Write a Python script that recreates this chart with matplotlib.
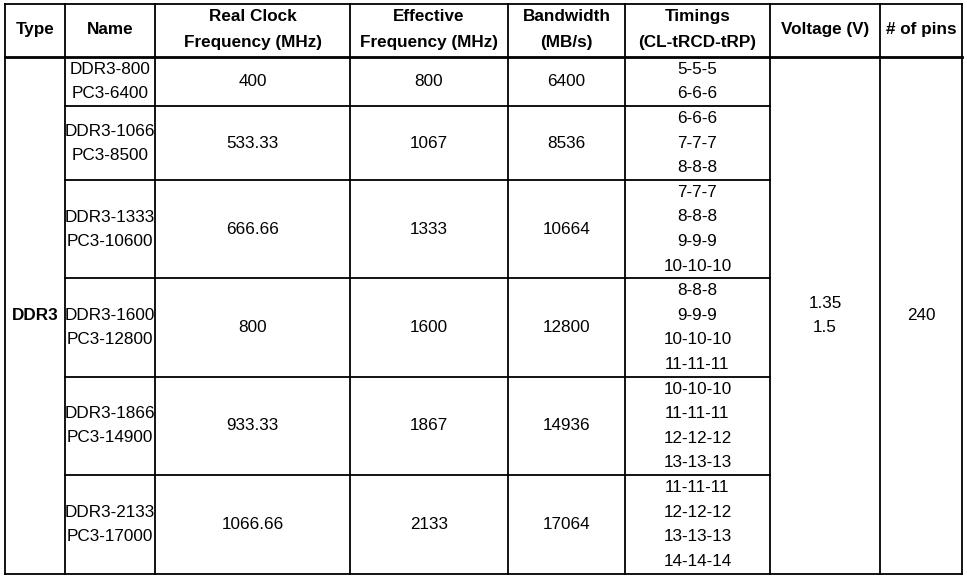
import matplotlib
matplotlib.use("Agg")
import matplotlib.pyplot as plt

headers = ["Type", "Name", "Real Clock\nFrequency (MHz)", "Effective\nFrequency (MHz)",
           "Bandwidth\n(MB/s)", "Timings\n(CL-tRCD-tRP)", "Voltage (V)", "# of pins"]
mem_type = "DDR3"
names = ["DDR3-800\nPC3-6400", "DDR3-1066\nPC3-8500", "DDR3-1333\nPC3-10600",
         "DDR3-1600\nPC3-12800", "DDR3-1866\nPC3-14900", "DDR3-2133\nPC3-17000"]
real_clock = ["400", "533.33", "666.66", "800", "933.33", "1066.66"]
effective = ["800", "1067", "1333", "1600", "1867", "2133"]
bandwidth = ["6400", "8536", "10664", "12800", "14936", "17064"]
timings = [["5-5-5", "6-6-6"],
           ["6-6-6", "7-7-7", "8-8-8"],
           ["7-7-7", "8-8-8", "9-9-9", "10-10-10"],
           ["8-8-8", "9-9-9", "10-10-10", "11-11-11"],
           ["10-10-10", "11-11-11", "12-12-12", "13-13-13"],
           ["11-11-11", "12-12-12", "13-13-13", "14-14-14"]]
voltage = "1.35\n1.5"
pins = "240"

W, H = 967, 578
fig = plt.figure(figsize=(W/100, H/100), dpi=100)
ax = fig.add_axes([0, 0, 1, 1])
ax.set_xlim(0, W); ax.set_ylim(H, 0); ax.axis("off")
plt.rcParams['font.family'] = ['Liberation Sans', 'DejaVu Sans']

xs = [5, 65, 155, 350, 508, 625, 770, 880, 962]
top, hdr_bot = 4, 57
line_h = 24.6
ys = [hdr_bot]
for t in timings:
    ys.append(ys[-1] + line_h * len(t))
bot = ys[-1]
fs = 12.3
lw = 1.3

for i, h in enumerate(headers):
    ax.text((xs[i]+xs[i+1])/2, (top+hdr_bot)/2 - 1, h, ha="center", va="center",
            fontsize=fs, fontweight="bold", linespacing=1.85)
ax.plot([xs[0], xs[-1]], [top, top], color="black", lw=lw)
ax.plot([xs[0], xs[-1]], [hdr_bot, hdr_bot], color="black", lw=2)
ax.plot([xs[0], xs[-1]], [bot, bot], color="black", lw=lw)
for x in xs:
    ax.plot([x, x], [top, bot], color="black", lw=lw)
for y in ys[1:-1]:
    ax.plot([xs[1], xs[6]], [y, y], color="black", lw=lw)

for r in range(len(names)):
    y0, y1 = ys[r], ys[r+1]
    yc = (y0 + y1) / 2
    ax.text((xs[1]+xs[2])/2, yc, names[r], ha="center", va="center", fontsize=fs, linespacing=1.75)
    for c, vals in zip([2, 3, 4], [real_clock, effective, bandwidth]):
        ax.text((xs[c]+xs[c+1])/2, yc, vals[r], ha="center", va="center", fontsize=fs)
    for k, t in enumerate(timings[r]):
        ax.text((xs[5]+xs[6])/2, y0 + line_h*(k+0.5), t, ha="center", va="center", fontsize=fs)

mid = (hdr_bot + bot) / 2
ax.text((xs[0]+xs[1])/2, mid, mem_type, ha="center", va="center", fontsize=fs, fontweight="bold")
ax.text((xs[6]+xs[7])/2, mid, voltage, ha="center", va="center", fontsize=fs, linespacing=1.75)
ax.text((xs[7]+xs[8])/2, mid, pins, ha="center", va="center", fontsize=fs)

fig.savefig("out.png", dpi=100, facecolor="white")
